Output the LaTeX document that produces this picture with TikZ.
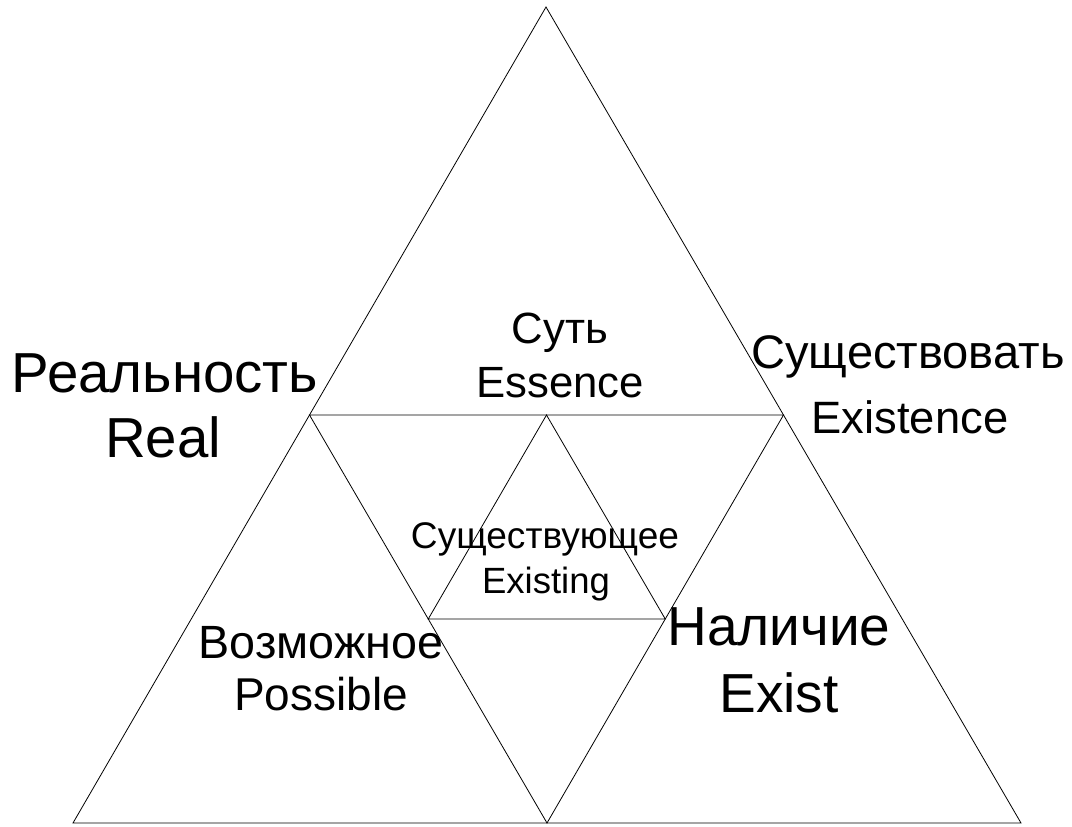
\documentclass[tikz,border=0pt]{standalone}
\usepackage{fontspec}
\setmainfont{Liberation Sans}
\usetikzlibrary{calc}
\begin{document}
\begin{tikzpicture}[x=0.75pt,y=-0.75pt,
  edge/.style={draw=black,line width=0.6pt,line join=miter},
  lbl/.style={anchor=base,inner sep=0pt,outer sep=0pt,text=black}]
\useasboundingbox (0,0) rectangle (1072,826);
% vertices
\coordinate (A) at (546,7);
\coordinate (BL) at (73,823);
\coordinate (BR) at (1021,823);
\coordinate (L) at ($(A)!0.5!(BL)$);
\coordinate (R) at ($(A)!0.5!(BR)$);
\coordinate (B) at ($(BL)!0.5!(BR)$);
\coordinate (IA) at ($(L)!0.5!(R)$);
\coordinate (IL) at ($(L)!0.5!(B)$);
\coordinate (IR) at ($(R)!0.5!(B)$);
\draw[edge] (A) -- (BL) -- (BR) -- cycle;
\draw[edge] (L) -- (R) -- (B) -- cycle;
\draw[edge] (IA) -- (IL) -- (IR) -- cycle;
% labels
\node[lbl,font=\fontsize{42.3}{48}\selectfont] (real1) at (165,392) {Реальность};
\node[lbl,font=\fontsize{42.3}{48}\selectfont] (real2) at (163,457) {Real};
\node[lbl,font=\fontsize{32.8}{38}\selectfont] (ess1) at (560,343) {Суть};
\node[lbl,font=\fontsize{32.8}{38}\selectfont] (ess2) at (560,397) {Essence};
\node[lbl,font=\fontsize{35.3}{40}\selectfont] (exi1) at (908,368) {Существовать};
\node[lbl,font=\fontsize{34}{40}\selectfont] (exi2) at (910,433) {Existence};
\node[lbl,font=\fontsize{27.8}{30}\selectfont] (ing1) at (545,548) {Существующее};
\node[lbl,font=\fontsize{27.4}{30}\selectfont] (ing2) at (546,593) {Existing};
\node[lbl,font=\fontsize{35}{40}\selectfont] (pos1) at (321,658) {Возможное};
\node[lbl,font=\fontsize{34.5}{40}\selectfont] (pos2) at (321,710) {Possible};
\node[lbl,font=\fontsize{41.25}{48}\selectfont] (nal1) at (779,645) {Наличие};
\node[lbl,font=\fontsize{41.25}{48}\selectfont] (nal2) at (779,712) {Exist};
\end{tikzpicture}
\end{document}
